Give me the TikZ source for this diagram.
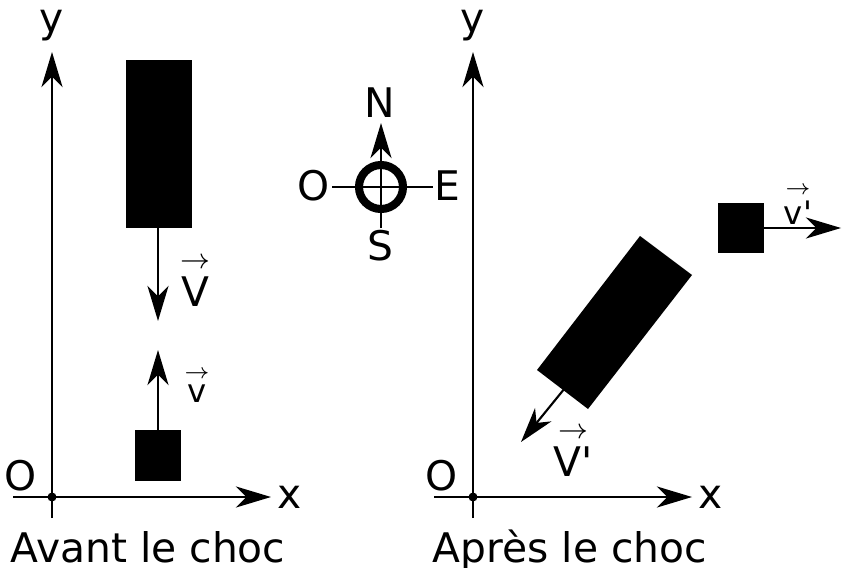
\documentclass[tikz,border=0pt]{standalone}
\usepackage{amsmath}
\usepackage{fontspec}
\setmainfont{DejaVu Sans}
\usetikzlibrary{arrows.meta}
\usetikzlibrary{positioning}

\begin{document}
\begin{tikzpicture}[x=0.01cm,y=-0.01cm,
    axe/.style={line width=0.6pt,-{Stealth[length=10pt,width=6pt,inset=3pt]}},
    lbl/.style={font=\fontsize{11.6}{13}\selectfont,inner sep=0pt,anchor=base},
    petit/.style={font=\fontsize{9.2}{11}\selectfont,inner sep=0pt}]
  \useasboundingbox (0,0) rectangle (843,567);
  % axes
  \foreach \ox/\nom in {52/av,473/ap}{
      \draw[axe] (\ox,518) -- (\ox,52);
      \draw[axe] (\ox-39,497) -- (\ox+219,497);
      \fill (\ox,497) circle (4.5);
      \node[lbl] (y\nom) at (\ox,33) {y};
      \node[lbl] (x\nom) at (\ox+238,508) {x};
      \node[lbl] (O\nom) at (\ox-31,490) {O};
    }
  \node[lbl] (avant) at (148,562) {Avant le choc};
  \node[lbl] (apres) at (570,562) {Après le choc};
  % avant
  \fill (126,60) rectangle (192,228);
  \fill (135,430) rectangle (181,481);
  \draw[axe] (158,228) -- (158,321);
  \draw[axe] (158,430) -- (158,350);
  \node[lbl,anchor=center] (V) at (195,280) {$\overset{\rightarrow}{\text{V}}$};
  \node[petit] (v) at (197,385) {$\overset{\rightarrow}{\text{v}}$};
  % boussole
  \draw[line width=0.6pt] (332,187) -- (433,187);
  \draw[axe] (381,228) -- (381,123);
  \draw[line width=2.3pt] (381,187) circle (22);
  \node[lbl] (N) at (380,118) {N};
  \node[lbl] (E) at (447,200) {E};
  \node[lbl] (Ob) at (314,200) {O};
  \node[lbl] (S) at (380,260) {S};
  % apres
  \fill (640,236) -- (692,275) -- (588,409) -- (537,370) -- cycle;
  \fill (718,203) rectangle (764,253);
  \draw[axe] (578,372) -- (521,442);
  \draw[axe] (764,228) -- (841,228);
  \node[lbl,anchor=center] (Vp) at (573,450) {$\overset{\rightarrow}{\text{V\textquotesingle}}$};
  \node[petit] (vp) at (798,204) {$\overset{\rightarrow}{\text{v\textquotesingle}}$};
\end{tikzpicture}
\end{document}
